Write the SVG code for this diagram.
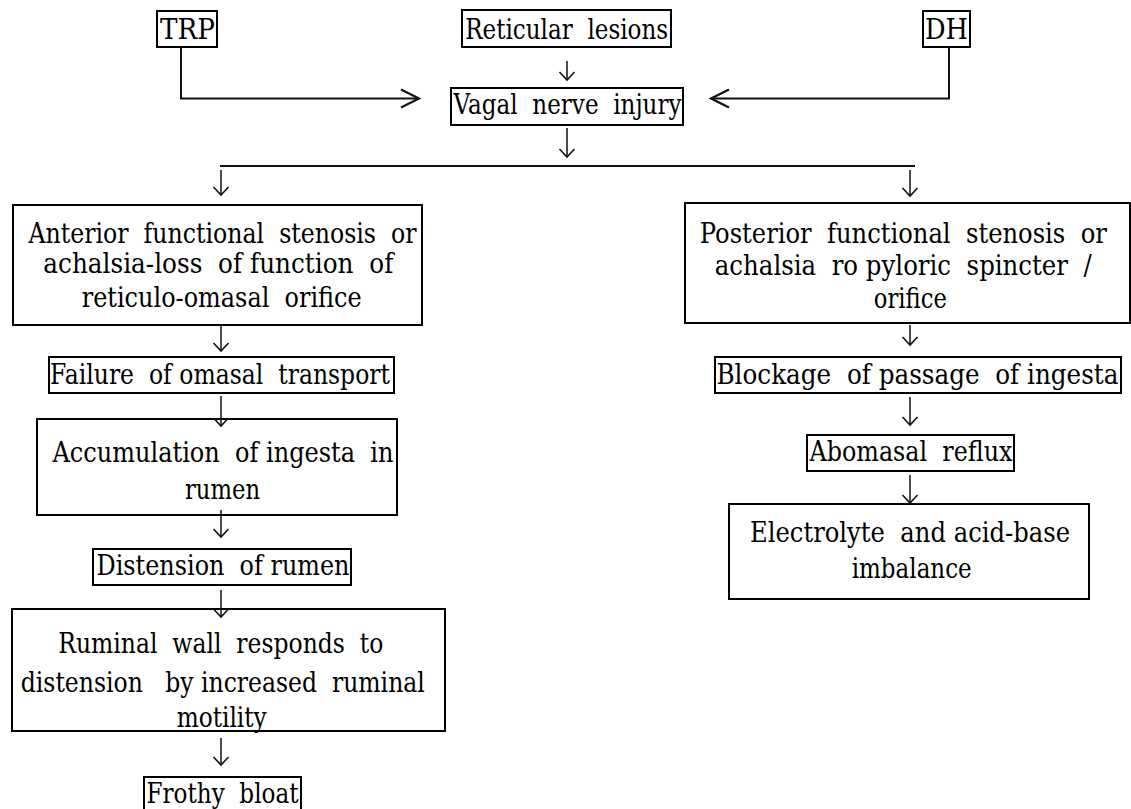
<svg xmlns="http://www.w3.org/2000/svg" width="1131" height="809" viewBox="0 0 1131 809" xml:space="preserve">
  <style>
    .box { fill: none; stroke: #000; stroke-width: 2; }
    text { font-family: "DejaVu Serif", "Liberation Serif", serif; font-size: 28px; fill: #000; text-anchor: middle; white-space: pre; }
    text.rt { text-anchor: end; }
    .step { fill: none; stroke: #111; stroke-width: 1.5; marker-end: url(#chev); }
    .feed { fill: none; stroke: #111; stroke-width: 2; marker-end: url(#bigchev); }
    .rail { fill: none; stroke: #111; stroke-width: 2; }
  </style>
  <defs>
    <marker id="chev" markerUnits="userSpaceOnUse" viewBox="-10 -10 12 20" markerWidth="12" markerHeight="20" refX="0" refY="0" orient="auto" overflow="visible">
      <path d="M-8,-7.5 L0,0 L-8,7.5" fill="none" stroke="#111" stroke-width="1.6"/>
    </marker>
    <marker id="bigchev" markerUnits="userSpaceOnUse" viewBox="-20 -11 22 22" markerWidth="22" markerHeight="22" refX="0" refY="0" orient="auto" overflow="visible">
      <path d="M-18,-9 L0,0 L-18,9" fill="none" stroke="#111" stroke-width="2.2"/>
    </marker>
  </defs>
  <rect width="1131" height="809" fill="#fff"/>
  <!-- causes -->
  <g id="trp">
    <rect class="box" x="157" y="11" width="60" height="36"/>
    <text x="187.5" y="39" textLength="55" lengthAdjust="spacingAndGlyphs">TRP</text>
  </g>
  <g id="reticular-lesions">
    <rect class="box" x="462" y="10" width="209" height="37"/>
    <text x="566.7" y="38.5" textLength="203" lengthAdjust="spacingAndGlyphs">Reticular  lesions</text>
  </g>
  <g id="dh">
    <rect class="box" x="923" y="11" width="47" height="36"/>
    <text x="946.5" y="38.5" textLength="43" lengthAdjust="spacingAndGlyphs">DH</text>
  </g>
  <g id="vagal-nerve-injury">
    <rect class="box" x="451" y="88" width="232" height="37"/>
    <text x="567.5" y="114" textLength="228" lengthAdjust="spacingAndGlyphs">Vagal  nerve  injury</text>
  </g>
  <!-- anterior branch -->
  <g id="anterior-stenosis">
    <rect class="box" x="13" y="205" width="409" height="120"/>
    <text x="222.5" y="242.5" textLength="388" lengthAdjust="spacingAndGlyphs">Anterior  functional  stenosis  or</text>
    <text x="218.3" y="273" textLength="350" lengthAdjust="spacingAndGlyphs">achalsia-loss  of function  of</text>
    <text x="221.7" y="307" textLength="280" lengthAdjust="spacingAndGlyphs">reticulo-omasal  orifice</text>
  </g>
  <g id="omasal-transport-failure">
    <rect class="box" x="49" y="357" width="345" height="36"/>
    <text x="220" y="383.5" textLength="340" lengthAdjust="spacingAndGlyphs">Failure  of omasal  transport</text>
  </g>
  <g id="ingesta-accumulation">
    <rect class="box" x="37" y="419" width="360" height="96"/>
    <text x="223" y="462" textLength="341" lengthAdjust="spacingAndGlyphs">Accumulation  of ingesta  in</text>
    <text x="222.5" y="499" textLength="75" lengthAdjust="spacingAndGlyphs">rumen</text>
  </g>
  <g id="rumen-distension">
    <rect class="box" x="93" y="549" width="258" height="36"/>
    <text x="223" y="575" textLength="253" lengthAdjust="spacingAndGlyphs">Distension  of rumen</text>
  </g>
  <g id="ruminal-wall-response">
    <rect class="box" x="12" y="609" width="433" height="122"/>
    <text x="220.8" y="653" textLength="325" lengthAdjust="spacingAndGlyphs">Ruminal  wall  responds  to</text>
    <text x="222.8" y="691.5" textLength="404" lengthAdjust="spacingAndGlyphs">distension   by increased  ruminal</text>
    <text x="221.7" y="727" textLength="90" lengthAdjust="spacingAndGlyphs">motility</text>
  </g>
  <g id="frothy-bloat">
    <rect class="box" x="144" y="777" width="157" height="40"/>
    <text x="222.5" y="803" textLength="152" lengthAdjust="spacingAndGlyphs">Frothy  bloat</text>
  </g>
  <!-- posterior branch (long lines are end-anchored at their right edge) -->
  <g id="posterior-stenosis">
    <rect class="box" x="685" y="203" width="445" height="120"/>
    <text class="rt" x="1106.8" y="243" textLength="407" lengthAdjust="spacingAndGlyphs">Posterior  functional  stenosis  or</text>
    <text class="rt" x="1091.8" y="275" textLength="377" lengthAdjust="spacingAndGlyphs">achalsia  ro pyloric  spincter  /</text>
    <text x="910.3" y="308" textLength="73" lengthAdjust="spacingAndGlyphs">orifice</text>
  </g>
  <g id="ingesta-blockage">
    <rect class="box" x="715" y="357" width="406" height="36"/>
    <text class="rt" x="1118.5" y="383.5" textLength="402" lengthAdjust="spacingAndGlyphs">Blockage  of passage  of ingesta</text>
  </g>
  <g id="abomasal-reflux">
    <rect class="box" x="807" y="435" width="207" height="36"/>
    <text x="911" y="460.5" textLength="203" lengthAdjust="spacingAndGlyphs">Abomasal  reflux</text>
  </g>
  <g id="electrolyte-imbalance">
    <rect class="box" x="729" y="504" width="360" height="95"/>
    <text x="910" y="542" textLength="320" lengthAdjust="spacingAndGlyphs">Electrolyte  and acid-base</text>
    <text x="911.7" y="578" textLength="120" lengthAdjust="spacingAndGlyphs">imbalance</text>
  </g>
  <!-- connectors, drawn over the box edges -->
  <g id="connectors">
    <path class="feed" d="M181,47 V98.5 H419"/>
    <path class="feed" d="M949,47 V98.5 H711"/>
    <path class="rail" d="M220,166 H915"/>
    <path class="step" d="M567,61 V80"/>
    <path class="step" d="M567,128 V157"/>
    <path class="step" d="M221,170 V195"/>
    <path class="step" d="M910,170 V196"/>
    <path class="step" d="M221,326 V351"/>
    <path class="step" d="M221,396 V426"/>
    <path class="step" d="M221,510 V537"/>
    <path class="step" d="M221,590 V617"/>
    <path class="step" d="M221,738 V765"/>
    <path class="step" d="M910,325 V345"/>
    <path class="step" d="M910,397 V425"/>
    <path class="step" d="M910,475 V503"/>
  </g>
</svg>
